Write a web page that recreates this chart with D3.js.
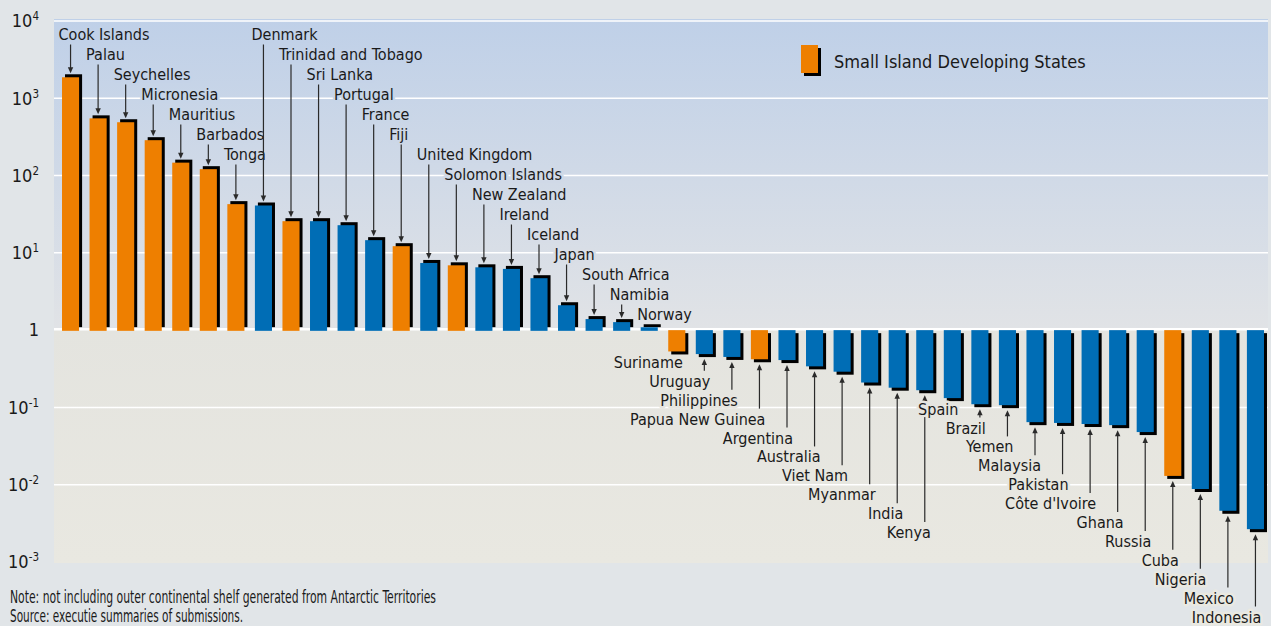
<!DOCTYPE html>
<html>
<head>
<meta charset="utf-8">
<script src="https://cdn.jsdelivr.net/npm/d3@7"></script>
<style>
	body { margin: 0; background: #e1e5e8; }
	svg { display: block; font-family: "DejaVu Sans Condensed", "DejaVu Sans", sans-serif; font-stretch: condensed; }
</style>
</head>
<body>
<script>
// outer continental shelf relative to land area (log scale, 1 = equal)
const countries = [
	"Cook Islands", "Palau", "Seychelles", "Micronesia", "Mauritius", "Barbados", "Tonga",
	"Denmark", "Trinidad and Tobago", "Sri Lanka", "Portugal", "France", "Fiji",
	"United Kingdom", "Solomon Islands", "New Zealand", "Ireland", "Iceland", "Japan",
	"South Africa", "Namibia", "Norway",
	"Suriname", "Uruguay", "Philippines", "Papua New Guinea", "Argentina", "Australia",
	"Viet Nam", "Myanmar", "India", "Kenya",
	"Spain", "Brazil", "Yemen", "Malaysia", "Pakistan", "Côte d'Ivoire", "Ghana", "Russia",
	"Cuba", "Nigeria", "Mexico", "Indonesia"
];
const values = [
	1870, 550, 490, 287, 147, 121, 42.7,
	41, 25.7, 25.7, 22.8, 14.6, 12.2,
	7.4, 6.9, 6.5, 6.2, 4.7, 2.1,
	1.39, 1.27, 1.09,
	0.53, 0.49, 0.45, 0.42, 0.41, 0.34,
	0.29, 0.21, 0.18, 0.167,
	0.132, 0.11, 0.107, 0.0645, 0.063, 0.061, 0.059, 0.048,
	0.013, 0.0088, 0.0046, 0.00266
];
const sidsCountries = [
	"Cook Islands", "Palau", "Seychelles", "Micronesia", "Mauritius", "Barbados", "Tonga",
	"Trinidad and Tobago", "Fiji", "Solomon Islands", "Suriname", "Papua New Guinea", "Cuba"
];
const tickValues = [1e-3, 1e-2, 1e-1, 1, 1e1, 1e2, 1e3, 1e4];
const legendLabel = "Small Island Developing States";
const notes = [
	"Note: not including outer continental shelf generated from Antarctic Territories",
	"Source: executie summaries of submissions."
];

// label staircases restart at these countries
const labelGroupStarts = ["Cook Islands", "Denmark", "Suriname", "Spain"];

const width = 1271, height = 626;
const plot = {left: 54, right: 1268, top: 19, bottom: 563};
const orange = "#ee7f00", blue = "#006db5";

const data = countries.map((name, i) => ({name, value: values[i], sids: sidsCountries.includes(name)}));

const x = d3.scaleBand()
	.domain(countries)
	.range([56.5, 1269.5])
	.paddingInner(0.38)
	.paddingOuter(0.2);

const y = d3.scaleLog()
	.domain([1e-3, 1e4])
	.range([562, 21]);

const y0 = y(1);

const upperColor = d3.interpolateRgb("#bfd0e8", "#e1e3e6");
const lowerColor = d3.interpolateRgb("#e4e4df", "#e9e8e1");
const bgAt = py => py < y0
	? upperColor((py - plot.top) / (y0 - plot.top))
	: lowerColor((py - y0) / (plot.bottom - y0));

const svg = d3.select("body").append("svg")
	.attr("width", width)
	.attr("height", height);

const defs = svg.append("defs");
const gUp = defs.append("linearGradient")
	.attr("id", "bgUp").attr("x1", 0).attr("x2", 0).attr("y1", 0).attr("y2", 1);
gUp.append("stop").attr("offset", 0).attr("stop-color", "#bfd0e8");
gUp.append("stop").attr("offset", 1).attr("stop-color", "#e1e3e6");
const gDown = defs.append("linearGradient")
	.attr("id", "bgDown").attr("x1", 0).attr("x2", 0).attr("y1", 0).attr("y2", 1);
gDown.append("stop").attr("offset", 0).attr("stop-color", "#e4e4df");
gDown.append("stop").attr("offset", 1).attr("stop-color", "#e9e8e1");

svg.append("rect")
	.attr("x", plot.left).attr("y", plot.top)
	.attr("width", plot.right - plot.left).attr("height", y0 - plot.top)
	.attr("fill", "url(#bgUp)");
svg.append("rect")
	.attr("x", plot.left).attr("y", y0)
	.attr("width", plot.right - plot.left).attr("height", plot.bottom - y0)
	.attr("fill", "url(#bgDown)");

// gridlines
svg.append("g")
		.attr("stroke", "#fff")
	.selectAll("line")
	.data(tickValues.filter(d => d !== 1 && d !== 1e-3))
	.join("line")
		.attr("x1", plot.left).attr("x2", plot.right)
		.attr("y1", d => y(d)).attr("y2", d => y(d))
		.attr("stroke-width", 1.5);

// y tick labels
const ticks = svg.append("g")
		.attr("font-size", 18)
		.attr("fill", "#1a1a1a")
		.attr("text-anchor", "end")
	.selectAll("text")
	.data(tickValues)
	.join("text")
		.attr("x", 39)
		.attr("y", d => y(d))
		.attr("dy", "0.35em");
ticks.filter(d => d === 1).text("1");
ticks.filter(d => d !== 1).each(function (d) {
	const t = d3.select(this);
	t.append("tspan").text("10");
	t.append("tspan")
		.attr("font-size", 11.5)
		.attr("dy", "-0.6em")
		.text(Math.round(Math.log10(d)));
});

// baseline at 1
svg.append("line")
	.attr("x1", plot.left).attr("x2", plot.right)
	.attr("y1", y0 - 1).attr("y2", y0 - 1)
	.attr("stroke", "#fff")
	.attr("stroke-width", 2.5);

const bars = svg.append("g")
	.selectAll("g")
	.data(data)
	.join("g");

bars.append("rect")
	.attr("x", d => x(d.name) + 3)
	.attr("y", d => d.value >= 1 ? y(d.value) - 3 : y0 + 3)
	.attr("width", x.bandwidth())
	.attr("height", d => Math.abs(y(d.value) - y0))
	.attr("fill", "#000");

bars.append("rect")
	.attr("x", d => x(d.name))
	.attr("y", d => d.value >= 1 ? y(d.value) : y0)
	.attr("width", x.bandwidth())
	.attr("height", d => d.value >= 1 ? y0 + 0.7 - y(d.value) : y(d.value) - y0)
	.attr("fill", d => d.sids ? orange : blue);

// labels with arrows
let row = 0;
data.forEach(d => {
	if (labelGroupStarts.includes(d.name)) row = 0;
	d.row = row++;
});

const labels = svg.append("g")
	.attr("font-size", 16)
	.attr("fill", "#1a1a1a");

data.forEach((d, i) => {
	const cx = x(d.name) + x.bandwidth() / 2;
	const up = d.value >= 1;
	let groupStart = d;
	for (let j = i; j >= 0; j--) if (data[j].row === 0) { groupStart = data[j]; break; }
	const base = up
		? 39.5 + 20 * d.row
		: y(groupStart.value) + 16.5 + 18.9 * d.row;
	const tx = up ? cx - 12 : cx + 6;

	labels.append("text")
		.attr("x", tx)
		.attr("y", base)
		.attr("text-anchor", up ? "start" : "end")
		.attr("stroke", bgAt(base - 5))
		.attr("stroke-width", 5)
		.attr("stroke-linejoin", "round")
		.attr("paint-order", "stroke")
		.text(d.name);

	if (up) {
		const y1 = base + 5, tip = y(d.value) - 4;
		if (tip - y1 > 8) {
			labels.append("line")
				.attr("x1", cx).attr("x2", cx).attr("y1", y1).attr("y2", tip - 4)
				.attr("stroke", "#2a2a2a").attr("stroke-width", 1.2);
			labels.append("path")
				.attr("d", `M${cx - 2.7},${tip - 6}L${cx + 2.7},${tip - 6}L${cx},${tip}Z`)
				.attr("fill", "#2a2a2a");
		}
	} else {
		const y1 = base - 16, tip = y(d.value) + 5;
		if (y1 - tip > 8) {
			labels.append("line")
				.attr("x1", cx).attr("x2", cx).attr("y1", y1).attr("y2", tip + 4)
				.attr("stroke", "#2a2a2a").attr("stroke-width", 1.2);
			labels.append("path")
				.attr("d", `M${cx - 2.7},${tip + 6}L${cx + 2.7},${tip + 6}L${cx},${tip}Z`)
				.attr("fill", "#2a2a2a");
		}
	}
});

// legend
const legend = svg.append("g")
	.attr("transform", "translate(801,45)");
legend.append("rect")
	.attr("x", 3).attr("y", 3).attr("width", 17).attr("height", 28)
	.attr("fill", "#000");
legend.append("rect")
	.attr("width", 17).attr("height", 28)
	.attr("fill", orange);
legend.append("text")
	.attr("x", 33).attr("y", 23)
	.attr("font-size", 18)
	.attr("fill", "#1a1a1a")
	.text(legendLabel);

// notes
svg.append("g")
		.attr("font-size", 17.5)
		.attr("fill", "#1a1a1a")
	.selectAll("text")
	.data(notes)
	.join("text")
		.attr("x", 10)
		.attr("y", (d, i) => 603 + i * 19)
		.attr("textLength", (d, i) => i === 0 ? 426 : 233)
		.attr("lengthAdjust", "spacingAndGlyphs")
		.text(d => d);
</script>
</body>
</html>
